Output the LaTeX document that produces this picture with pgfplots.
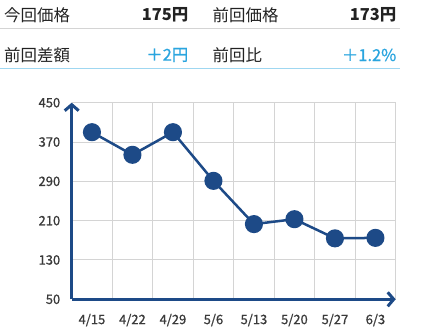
\documentclass[border=0pt]{standalone}
\usepackage{fontspec}
\setmainfont{Noto Sans CJK JP}
\newfontfamily\medfont[FakeBold=0.8]{Noto Sans CJK JP}
\usepackage{pgfplots}
\pgfplotsset{compat=1.18}
\usetikzlibrary{arrows.meta}
\definecolor{navy}{HTML}{1D4A87}
\definecolor{gridc}{HTML}{D4D4D4}
\definecolor{valblue}{HTML}{2AA5DF}
\definecolor{txt}{HTML}{222222}
\definecolor{tick}{HTML}{3A3A3A}
\begin{document}
\begin{tikzpicture}
\useasboundingbox (0,0) rectangle (428bp,-334bp);
\fill[white] (0,0) rectangle (428bp,-334bp);
\begin{axis}[
  at={(71.7bp,-299.3bp)}, anchor=south west,
  scale only axis, width=324bp, height=196.6bp,
  xmin=-0.5, xmax=7.5, ymin=50, ymax=450,
  axis x line=bottom, axis y line=left,
  axis line style={line width=3bp, draw=navy},
  x axis line style={-{Straight Barb[length=6bp,width=14bp,line width=3bp]}},
  y axis line style={-{Straight Barb[length=6bp,width=14bp,line width=3bp]}},
  xtick={0,...,7},
  xticklabels={4/15,4/22,4/29,5/6,5/13,5/20,5/27,6/3},
  minor xtick={0.5,1.5,2.5,3.5,4.5,5.5,6.5,7.5},
  ytick={50,130,210,290,370,450},
  ymajorgrids, xminorgrids,
  grid style={draw=gridc, line width=1bp},
  minor grid style={draw=gridc, line width=1bp},
  major tick length=0pt, minor tick length=0pt,
  tick label style={text=tick, font=\fontsize{13}{13}\medfont},
  xticklabel style={yshift=-11bp},
  yticklabel style={xshift=-8bp},
  /pgf/number format/assume math mode=true,
  /pgf/number format/1000 sep={},
  clip=false,
]
\addplot[navy, line width=2.5bp, line join=round, mark=*, mark size=7.8bp, mark options={fill=navy, draw=none}]
  coordinates {(0,390) (1,344) (2,390) (3,291) (4,203) (5,213) (6,174) (7,175)};
\end{axis}
% header
\node[anchor=west,text=txt,font=\fontsize{16.5}{16.5}\selectfont,inner sep=0] at (4bp,-15bp) {今回価格};
\node[anchor=east,text=txt,font=\fontsize{16.5}{16.5}\selectfont\bfseries,inner sep=0] at (188.5bp,-15bp) {175円};
\node[anchor=west,text=txt,font=\fontsize{16.5}{16.5}\selectfont,inner sep=0] at (212.5bp,-15bp) {前回価格};
\node[anchor=east,text=txt,font=\fontsize{16.5}{16.5}\selectfont\bfseries,inner sep=0] at (396.5bp,-15bp) {173円};
\draw[line width=1.5bp,draw=gridc] (0,-28.5bp) -- (400bp,-28.5bp);
\node[anchor=west,text=txt,font=\fontsize{16.5}{16.5}\selectfont,inner sep=0] at (4bp,-55bp) {前回差額};
\node[anchor=east,text=valblue,font=\fontsize{16.5}{16.5}\medfont,inner sep=0] at (188.5bp,-55bp) {＋2円};
\node[anchor=west,text=txt,font=\fontsize{16.5}{16.5}\selectfont,inner sep=0] at (212.5bp,-55bp) {前回比};
\node[anchor=east,text=valblue,font=\fontsize{16.5}{16.5}\medfont,inner sep=0] at (396.5bp,-55bp) {＋1.2\%};
\draw[line width=1.5bp,draw=valblue!45] (0,-68.5bp) -- (400bp,-68.5bp);
\end{tikzpicture}
\end{document}
